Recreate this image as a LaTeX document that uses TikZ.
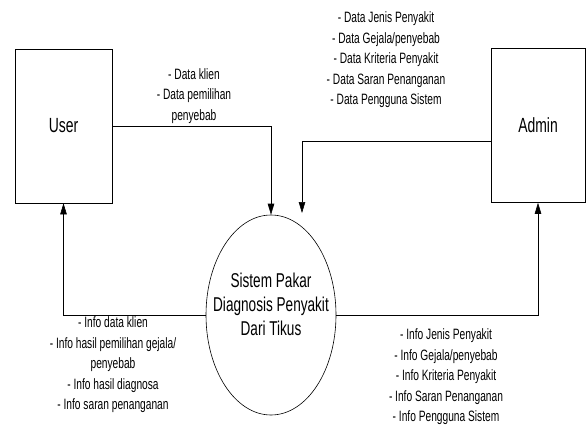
\documentclass[tikz,border=0pt]{standalone}
\usepackage{fontspec}
\setmainfont{Liberation Sans}[FakeStretch=0.68]
\usetikzlibrary{arrows.meta,shapes.geometric}
\tikzset{
  entity/.style={draw,minimum width=97pt,minimum height=154pt,inner sep=0pt,font=\fontsize{20.5}{22}\selectfont},
  flow/.style={-{Triangle[length=11pt,width=6.5pt]},line width=0.6pt},
  note/.style={align=center,font=\fontsize{15}{20.5}\selectfont,inner sep=0pt}
}
\begin{document}
\begin{tikzpicture}[x=1pt,y=-1pt,line width=0.6pt]
\useasboundingbox (0,0) rectangle (586,428);
\node[entity] (user) at (63.5,126) {User};
\node[entity,minimum width=94pt] (admin) at (538,125.5) {Admin};
\node[draw,ellipse,minimum width=130pt,minimum height=200pt,inner sep=0pt] (proc) at (271,315) {};
\node[align=center,inner sep=0pt,font=\fontsize{20}{24}\selectfont] (proctext) at (271,304) {Sistem Pakar\\Diagnosis Penyakit\\Dari Tikus};
\coordinate (a2) at (302,213);
\draw[flow] (user) -| (proc);
\draw[flow] (admin.west |- 0,141) -| (a2);
\draw[flow] (proc) -| (user);
\draw[flow] (proc) -| (admin);
\node[note] (in1) at (194,96) {- Data klien\\- Data pemilihan\\penyebab};
\node[note] (in2) at (386,60) {- Data Jenis Penyakit\\- Data Gejala/penyebab\\- Data Kriteria Penyakit\\- Data Saran Penanganan\\- Data Pengguna Sistem};
\node[note] (out1) at (113,365) {- Info data klien\\- Info hasil pemilihan gejala/\\penyebab\\- Info hasil diagnosa\\- Info saran penanganan};
\node[note] (out2) at (446,377) {- Info Jenis Penyakit\\- Info Gejala/penyebab\\- Info Kriteria Penyakit\\- Info Saran Penanganan\\- Info Pengguna Sistem};
\end{tikzpicture}
\end{document}
